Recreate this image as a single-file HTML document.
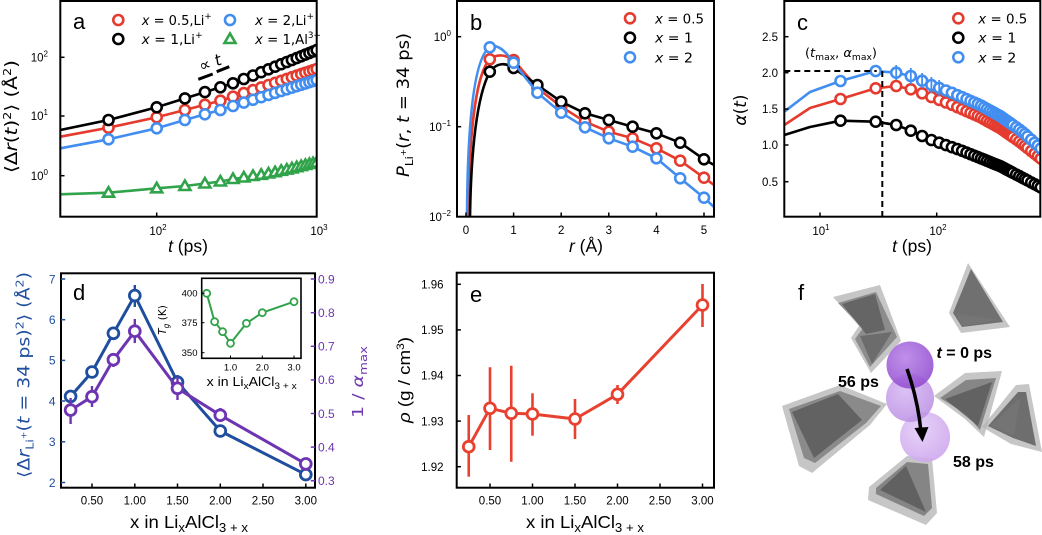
<!DOCTYPE html>
<html><head><meta charset="utf-8"><style>
html,body{margin:0;padding:0;background:#fff;}
svg{display:block;font-family:"Liberation Sans","DejaVu Sans",sans-serif;}
.m{font-family:"DejaVu Sans","Liberation Sans",sans-serif;}
</style></head><body>
<svg width="1042" height="535" viewBox="0 0 1042 535" xmlns="http://www.w3.org/2000/svg">
<defs>
<marker id="mR" viewBox="0 0 16 16" refX="8" refY="8" markerWidth="16" markerHeight="16" markerUnits="userSpaceOnUse"><circle cx="8" cy="8" r="5" fill="#fff" stroke="#e53b2f" stroke-width="2.6"/></marker>
<marker id="mK" viewBox="0 0 16 16" refX="8" refY="8" markerWidth="16" markerHeight="16" markerUnits="userSpaceOnUse"><circle cx="8" cy="8" r="5" fill="#fff" stroke="#000" stroke-width="2.6"/></marker>
<marker id="mB" viewBox="0 0 16 16" refX="8" refY="8" markerWidth="16" markerHeight="16" markerUnits="userSpaceOnUse"><circle cx="8" cy="8" r="5" fill="#fff" stroke="#428ef0" stroke-width="2.6"/></marker>
<marker id="mG" viewBox="0 0 16 16" refX="8" refY="8" markerWidth="16" markerHeight="16" markerUnits="userSpaceOnUse"><polygon points="8,2.5 2.5,12 13.5,12" fill="#fff" stroke="#31a34a" stroke-width="2.6" stroke-linejoin="miter"/></marker>
<marker id="mD" viewBox="0 0 18 18" refX="9" refY="9" markerWidth="18" markerHeight="18" markerUnits="userSpaceOnUse"><circle cx="9" cy="9" r="5.4" fill="#fff" stroke="#1f4e9e" stroke-width="2.8"/></marker>
<marker id="mP" viewBox="0 0 18 18" refX="9" refY="9" markerWidth="18" markerHeight="18" markerUnits="userSpaceOnUse"><circle cx="9" cy="9" r="5.4" fill="#fff" stroke="#6e35b2" stroke-width="2.8"/></marker>
<marker id="mE" viewBox="0 0 18 18" refX="9" refY="9" markerWidth="18" markerHeight="18" markerUnits="userSpaceOnUse"><circle cx="9" cy="9" r="5.4" fill="#fff" stroke="#e8412f" stroke-width="2.8"/></marker>
<marker id="mI" viewBox="0 0 12 12" refX="6" refY="6" markerWidth="12" markerHeight="12" markerUnits="userSpaceOnUse"><circle cx="6" cy="6" r="3.5" fill="#fff" stroke="#31a34a" stroke-width="1.8"/></marker>
<clipPath id="cA"><rect x="60.3" y="1" width="256.4" height="215.7"/></clipPath>
<clipPath id="cB"><rect x="457" y="1" width="257" height="215.7"/></clipPath>
<clipPath id="cC"><rect x="784.3" y="1" width="256" height="215.7"/></clipPath>
<radialGradient id="s1" cx="0.4" cy="0.35" r="0.7"><stop offset="0" stop-color="#b681e6"/><stop offset="1" stop-color="#9049cf"/></radialGradient>
<radialGradient id="s2" cx="0.4" cy="0.35" r="0.7"><stop offset="0" stop-color="#d6b8f2"/><stop offset="1" stop-color="#bb8fe3"/></radialGradient>
<radialGradient id="s3" cx="0.4" cy="0.35" r="0.7"><stop offset="0" stop-color="#e4cdf7"/><stop offset="1" stop-color="#cda6ee"/></radialGradient>
</defs>
<rect width="1042" height="535" fill="#fff"/>

<!-- ================= PANEL A ================= -->
<g clip-path="url(#cA)" fill="none" stroke-width="2.6" stroke-linejoin="round">
<polyline stroke="#e53b2f" points="60.3,136.7 108.5,127.7 156.7,117.3 184.9,110 204.9,104.7 220.4,100.7 233,96.7 243.8,93.1 253,90.1 261.2,87.4 268.5,85.0 275.1,82.8 281.2,80.8 286.8,78.9 291.9,77.2 296.7,75.6 301.2,74.1 305.4,72.7 309.4,71.4 313.1,70.2 316.7,69.0"/>
<polyline stroke="none" marker-start="url(#mR)" marker-mid="url(#mR)" marker-end="url(#mR)" points="108.5,127.7 156.7,117.3 184.9,110 204.9,104.7 220.4,100.7 233,96.7 243.8,93.1 253,90.1 261.2,87.4 268.5,85.0 275.1,82.8 281.2,80.8 286.8,78.9 291.9,77.2 296.7,75.6 301.2,74.1 305.4,72.7 309.4,71.4 313.1,70.2 316.7,69.0"/>
<polyline stroke="#000" points="60.3,130 108.5,120 156.7,107.3 184.9,98.4 204.9,92.1 220.4,87.3 233,83.3 243.8,79.0 253,75.5 261.2,72.2 268.5,69.3 275.1,66.7 281.2,64.2 286.8,62.0 291.9,60.0 296.7,58.1 301.2,56.3 305.4,54.6 309.4,53.0 313.1,51.5 316.7,50.1"/>
<polyline stroke="none" marker-start="url(#mK)" marker-mid="url(#mK)" marker-end="url(#mK)" points="108.5,120 156.7,107.3 184.9,98.4 204.9,92.1 220.4,87.3 233,83.3 243.8,79.0 253,75.5 261.2,72.2 268.5,69.3 275.1,66.7 281.2,64.2 286.8,62.0 291.9,60.0 296.7,58.1 301.2,56.3 305.4,54.6 309.4,53.0 313.1,51.5 316.7,50.1"/>
<polyline stroke="#428ef0" points="60.3,148.3 108.5,139.3 156.7,128.3 184.9,120 204.9,114.3 220.4,110 233,106 243.8,102.6 253,99.8 261.2,97.2 268.5,94.9 275.1,92.9 281.2,91.0 286.8,89.3 291.9,87.7 296.7,86.2 301.2,84.8 305.4,83.5 309.4,82.2 313.1,81.1 316.7,80.0"/>
<polyline stroke="none" marker-start="url(#mB)" marker-mid="url(#mB)" marker-end="url(#mB)" points="108.5,139.3 156.7,128.3 184.9,120 204.9,114.3 220.4,110 233,106 243.8,102.6 253,99.8 261.2,97.2 268.5,94.9 275.1,92.9 281.2,91.0 286.8,89.3 291.9,87.7 296.7,86.2 301.2,84.8 305.4,83.5 309.4,82.2 313.1,81.1 316.7,80.0"/>
<polyline stroke="#31a34a" points="60.3,194.3 108.5,192.7 156.7,188.3 184.9,186 204.9,183.5 220.4,181.5 233,179 243.8,177.5 253,176 261.2,174.8 268.5,173.5 275.1,172.2 281.2,170.8 286.8,169.6 291.9,168.4 296.7,167.2 301.2,166.1 305.4,165 309.4,164 313.1,163.2 316.7,162.5"/>
<polyline stroke="none" marker-start="url(#mG)" marker-mid="url(#mG)" marker-end="url(#mG)" points="108.5,192.7 156.7,188.3 184.9,186 204.9,183.5 220.4,181.5 233,179 243.8,177.5 253,176 261.2,174.8 268.5,173.5 275.1,172.2 281.2,170.8 286.8,169.6 291.9,168.4 296.7,167.2 301.2,166.1 305.4,165 309.4,164 313.1,163.2 316.7,162.5"/>
</g>
<g fill="#fff" stroke-width="2.6">
<circle cx="118.3" cy="20" r="5" stroke="#e53b2f"/>
<circle cx="118.3" cy="39" r="5" stroke="#000"/>
<circle cx="230" cy="20" r="5" stroke="#428ef0"/>
<polygon points="230,33.5 224.5,43 235.5,43" stroke="#31a34a"/>
</g>
<g class="m" font-size="13.5" fill="#000">
<text x="141.7" y="25" textLength="70" lengthAdjust="spacingAndGlyphs"><tspan font-style="italic">x</tspan> = 0.5,Li<tspan font-size="9" dy="-6">+</tspan></text>
<text x="141.7" y="44" textLength="61" lengthAdjust="spacingAndGlyphs"><tspan font-style="italic">x</tspan> = 1,Li<tspan font-size="9" dy="-6">+</tspan></text>
<text x="255" y="25" textLength="59" lengthAdjust="spacingAndGlyphs"><tspan font-style="italic">x</tspan> = 2,Li<tspan font-size="9" dy="-6">+</tspan></text>
<text x="255" y="44" textLength="66" lengthAdjust="spacingAndGlyphs"><tspan font-style="italic">x</tspan> = 1,Al<tspan font-size="9" dy="-6">3+</tspan></text>
</g>
<text x="73" y="29" font-size="22">a</text>
<line x1="198.3" y1="79.3" x2="212.7" y2="74" stroke="#000" stroke-width="3"/>
<line x1="216.7" y1="71.7" x2="229.3" y2="66.7" stroke="#000" stroke-width="3"/>
<text class="m" transform="translate(212,68) rotate(-20)" text-anchor="middle" font-size="16">∝ <tspan font-style="italic">t</tspan></text>
<rect x="60.3" y="1" width="256.4" height="215.7" fill="none" stroke="#000" stroke-width="2"/>
<g stroke="#000" stroke-width="1.5">
<line x1="60.3" y1="57.3" x2="64.5" y2="57.3"/><line x1="60.3" y1="116" x2="64.5" y2="116"/><line x1="60.3" y1="175.7" x2="64.5" y2="175.7"/>
<line x1="156.7" y1="216.7" x2="156.7" y2="212.5"/>
</g>
<g font-size="11.5" text-anchor="end">
<text x="48" y="61.5">10<tspan font-size="8" dy="-5">2</tspan></text>
<text x="48" y="120.2">10<tspan font-size="8" dy="-5">1</tspan></text>
<text x="48" y="179.9">10<tspan font-size="8" dy="-5">0</tspan></text>
</g>
<g font-size="11.5" text-anchor="middle">
<text x="158" y="235">10<tspan font-size="8" dy="-5">2</tspan></text>
<text x="319" y="235">10<tspan font-size="8" dy="-5">3</tspan></text>
</g>
<text x="188" y="252" text-anchor="middle" font-size="17.5"><tspan font-style="italic">t</tspan> (ps)</text>
<text class="m" transform="translate(17,116.5) rotate(-90)" text-anchor="middle" font-size="17" textLength="113" lengthAdjust="spacingAndGlyphs">⟨Δ<tspan font-style="italic">r</tspan>(<tspan font-style="italic">t</tspan>)<tspan font-size="11" dy="-6">2</tspan><tspan dy="6">⟩ (Å</tspan><tspan font-size="11" dy="-6">2</tspan><tspan dy="6">)</tspan></text>

<!-- ================= PANEL B ================= -->
<g clip-path="url(#cB)" fill="none" stroke-width="2.6" stroke-linejoin="round">
<path stroke="#e53b2f" d="M468,217 C469,140 475,75 489.8,59.3 C496,54 505,54 513.6,60 L537.4,88 L561.2,106.7 L585,121.7 L608.8,131.7 L632.6,138.3 L656.4,148.3 L680.2,160.7 L704,177.7 L714,185"/>
<polyline stroke="none" marker-start="url(#mR)" marker-mid="url(#mR)" marker-end="url(#mR)" points="489.8,59.3 513.6,60 537.4,88 561.2,106.7 585,121.7 608.8,131.7 632.6,138.3 656.4,148.3 680.2,160.7 704,177.7"/>
<path stroke="#000" d="M470,217 C471,150 477,95 489.8,72 C496,63 505,62 513.6,68 L537.4,85 L561.2,101.7 L585,113.3 L608.8,120 L632.6,126.7 L656.4,133.3 L680.2,142.7 L704,159.3 L714,165"/>
<polyline stroke="none" marker-start="url(#mK)" marker-mid="url(#mK)" marker-end="url(#mK)" points="489.8,71.7 513.6,68 537.4,85 561.2,101.7 585,113.3 608.8,120 632.6,126.7 656.4,133.3 680.2,142.7 704,159.3"/>
<path stroke="#428ef0" d="M467,217 C467.5,130 473,58 489.8,47.3 C496,43 505,50 513.6,62.7 L537.4,92.7 L561.2,112.7 L585,127.3 L608.8,138.3 L632.6,146.7 L656.4,158.3 L680.2,178.3 L704,197.7 L714,207"/>
<polyline stroke="none" marker-start="url(#mB)" marker-mid="url(#mB)" marker-end="url(#mB)" points="489.8,47.3 513.6,62.7 537.4,92.7 561.2,112.7 585,127.3 608.8,138.3 632.6,146.7 656.4,158.3 680.2,178.3 704,197.7"/>
</g>
<g fill="#fff" stroke-width="2.6">
<circle cx="630" cy="18.3" r="5" stroke="#e53b2f"/>
<circle cx="630" cy="37.7" r="5" stroke="#000"/>
<circle cx="630" cy="57.3" r="5" stroke="#428ef0"/>
</g>
<g class="m" font-size="13.5">
<text x="655" y="23.3" textLength="49" lengthAdjust="spacingAndGlyphs"><tspan font-style="italic">x</tspan> = 0.5</text>
<text x="655" y="42.7" textLength="38" lengthAdjust="spacingAndGlyphs"><tspan font-style="italic">x</tspan> = 1</text>
<text x="655" y="62.3" textLength="38" lengthAdjust="spacingAndGlyphs"><tspan font-style="italic">x</tspan> = 2</text>
</g>
<text x="470" y="30" font-size="22">b</text>
<rect x="457" y="1" width="257" height="215.7" fill="none" stroke="#000" stroke-width="2"/>
<g stroke="#000" stroke-width="1.5">
<line x1="457" y1="36.7" x2="461.2" y2="36.7"/><line x1="457" y1="126.7" x2="461.2" y2="126.7"/>
<line x1="466" y1="216.7" x2="466" y2="212.5"/><line x1="513.6" y1="216.7" x2="513.6" y2="212.5"/><line x1="561.2" y1="216.7" x2="561.2" y2="212.5"/><line x1="608.8" y1="216.7" x2="608.8" y2="212.5"/><line x1="656.4" y1="216.7" x2="656.4" y2="212.5"/><line x1="704" y1="216.7" x2="704" y2="212.5"/>
</g>
<g font-size="11.5" text-anchor="end">
<text x="451" y="40.9">10<tspan font-size="8" dy="-5">0</tspan></text>
<text x="451" y="130.9">10<tspan font-size="8" dy="-5">−1</tspan></text>
<text x="451" y="220.9">10<tspan font-size="8" dy="-5">−2</tspan></text>
</g>
<g font-size="11.5" text-anchor="middle">
<text x="466" y="234">0</text><text x="513.6" y="234">1</text><text x="561.2" y="234">2</text><text x="608.8" y="234">3</text><text x="656.4" y="234">4</text><text x="704" y="234">5</text>
</g>
<text x="586" y="252" text-anchor="middle" font-size="17.5"><tspan font-style="italic">r</tspan> (Å)</text>
<text class="m" transform="translate(409,105) rotate(-90)" text-anchor="middle" font-size="16.5" textLength="144" lengthAdjust="spacingAndGlyphs"><tspan font-style="italic">P</tspan><tspan font-size="11" dy="4">Li</tspan><tspan font-size="8" dy="-7">+</tspan><tspan dy="3">(</tspan><tspan font-style="italic">r</tspan>, <tspan font-style="italic">t</tspan> = 34 ps)</text>

<!-- ================= PANEL C ================= -->
<g clip-path="url(#cC)" fill="none" stroke-width="2.6" stroke-linejoin="round">
<polyline stroke="#e53b2f" points="784.3,125 810,108 840.5,99 875.7,88.3 896.2,86 910.8,89.3 922.1,93.3 931.4,97 950,104 980,117 1000,128 1020,142 1042,160"/>
<polyline stroke="none" marker-start="url(#mR)" marker-mid="url(#mR)" marker-end="url(#mR)" points="840.5,99 875.7,88.3 896.2,86 910.8,89.3 922.1,93.3 931.4,97 939.2,99.9 945.9,102.5 951.9,104.8 957.3,107.2 962.1,109.2 966.5,111.2 970.5,112.9 974.3,114.5 977.8,116 981.1,117.6 984.1,119.3 987,120.9 989.8,122.4 992.4,123.8 994.9,125.2 997.2,126.5 999.5,127.7 1001.6,129.1 1003.7,130.6 1005.7,132 1007.6,133.3 1009.4,134.6 1011.2,135.8 1012.9,137 1016.2,139.3 1019.3,141.5 1022.2,143.8 1024.9,145.9 1027.5,148 1031.2,151 1034.6,153.7 1037.8,156.2 1040.8,158.6"/>
<polyline stroke="#000" points="784.3,135 810,127 840.5,120.7 875.7,121.7 896.2,125 910.8,130.7 922.1,136 931.4,140 960,150 1000,166 1042,188"/>
<polyline stroke="none" marker-start="url(#mK)" marker-mid="url(#mK)" marker-end="url(#mK)" points="840.5,120.7 875.7,121.7 896.2,125 910.8,130.7 922.1,136 931.4,140 939.2,142.7 945.9,145.1 951.9,147.2 957.3,149.1 962.1,150.8 966.5,152.6 970.5,154.2 974.3,155.7 977.8,157.1 981.1,158.4 984.1,159.6 987,160.8 989.8,161.9 992.4,163 994.9,164 997.2,164.9 999.5,165.8 1001.6,166.8 1003.7,167.9 1005.7,169 1007.6,170 1009.4,170.9 1011.2,171.9 1012.9,172.8 1016.2,174.5 1019.3,176.1 1022.2,177.7 1024.9,179.1 1027.5,180.4 1031.2,182.4 1034.6,184.2 1037.8,185.8 1040.8,187.4"/>
<polyline stroke="#428ef0" points="784.3,111.7 810,92 840.5,81 875.7,71 896.2,72.7 910.8,76 922.1,80.7 931.4,85 950,92 980,105 1000,116 1020,130 1042,149"/>
<polyline stroke="none" marker-start="url(#mB)" marker-mid="url(#mB)" marker-end="url(#mB)" points="840.5,81 875.7,71 896.2,72.7 910.8,76 922.1,80.7 931.4,85 939.2,87.9 945.9,90.5 951.9,92.8 957.3,95.2 962.1,97.2 966.5,99.1 970.5,100.9 974.3,102.5 977.8,104 981.1,105.6 984.1,107.3 987,108.9 989.8,110.4 992.4,111.8 994.9,113.2 997.2,114.5 999.5,115.7 1001.6,117.1 1003.7,118.6 1005.7,120 1007.6,121.3 1009.4,122.6 1011.2,123.8 1012.9,125 1016.2,127.3 1019.3,129.5 1022.2,131.8 1024.9,134 1027.5,136.4 1031.2,139.7 1034.6,142.8 1037.8,145.6 1040.8,148.4"/>
<g stroke="#428ef0" stroke-width="1.8">
<line x1="896.2" y1="65" x2="896.2" y2="80"/><line x1="910.8" y1="68" x2="910.8" y2="84"/><line x1="922.1" y1="73" x2="922.1" y2="88"/><line x1="931.4" y1="77" x2="931.4" y2="93"/><line x1="939.2" y1="80" x2="939.2" y2="96"/>
</g>
</g>
<path d="M784.3,71 L876.7,71 M882.3,71 L882.3,216.7" stroke="#000" stroke-width="2" stroke-dasharray="6,4" fill="none"/>
<g fill="#fff" stroke-width="2.6">
<circle cx="958.3" cy="18.3" r="5" stroke="#e53b2f"/>
<circle cx="958.3" cy="37.7" r="5" stroke="#000"/>
<circle cx="958.3" cy="57.3" r="5" stroke="#428ef0"/>
</g>
<g class="m" font-size="13.5">
<text x="978.3" y="23.3" textLength="49" lengthAdjust="spacingAndGlyphs"><tspan font-style="italic">x</tspan> = 0.5</text>
<text x="978.3" y="42.7" textLength="38" lengthAdjust="spacingAndGlyphs"><tspan font-style="italic">x</tspan> = 1</text>
<text x="978.3" y="62.3" textLength="38" lengthAdjust="spacingAndGlyphs"><tspan font-style="italic">x</tspan> = 2</text>
</g>
<text x="797" y="30" font-size="22">c</text>
<text class="m" x="841" y="57" text-anchor="middle" font-size="12" textLength="72" lengthAdjust="spacingAndGlyphs">(<tspan font-style="italic">t</tspan><tspan font-size="8.5" dy="3">max</tspan><tspan dy="-3">, </tspan><tspan font-style="italic">α</tspan><tspan font-size="8.5" dy="3">max</tspan><tspan dy="-3">)</tspan></text>
<rect x="784.3" y="1" width="256" height="215.7" fill="none" stroke="#000" stroke-width="2"/>
<g stroke="#000" stroke-width="1.5">
<line x1="784.3" y1="36.7" x2="788.5" y2="36.7"/><line x1="784.3" y1="72.7" x2="788.5" y2="72.7"/><line x1="784.3" y1="109" x2="788.5" y2="109"/><line x1="784.3" y1="145" x2="788.5" y2="145"/><line x1="784.3" y1="181.7" x2="788.5" y2="181.7"/>
<line x1="820" y1="216.7" x2="820" y2="212.5"/><line x1="936.7" y1="216.7" x2="936.7" y2="212.5"/>
</g>
<g font-size="11.5" text-anchor="end">
<text x="778" y="40.9">2.5</text><text x="778" y="76.9">2.0</text><text x="778" y="113.2">1.5</text><text x="778" y="149.2">1.0</text><text x="778" y="185.9">0.5</text>
</g>
<g font-size="11.5" text-anchor="middle">
<text x="821" y="235">10<tspan font-size="8" dy="-5">1</tspan></text>
<text x="938" y="235">10<tspan font-size="8" dy="-5">2</tspan></text>
</g>
<text x="912" y="252" text-anchor="middle" font-size="17.5"><tspan font-style="italic">t</tspan> (ps)</text>
<text class="m" transform="translate(746,110) rotate(-90)" text-anchor="middle" font-size="17"><tspan font-style="italic">α</tspan>(<tspan font-style="italic">t</tspan>)</text>

<!-- ================= PANEL D ================= -->
<g stroke="#1f4e9e" stroke-width="2.4">
<line x1="70.6" y1="391" x2="70.6" y2="402"/><line x1="92" y1="367" x2="92" y2="377"/><line x1="113.4" y1="328" x2="113.4" y2="339"/><line x1="134.8" y1="285" x2="134.8" y2="307"/><line x1="177.5" y1="375" x2="177.5" y2="392"/><line x1="220.3" y1="427" x2="220.3" y2="436"/><line x1="305.8" y1="471" x2="305.8" y2="478"/>
</g>
<polyline fill="none" stroke="#1f4e9e" stroke-width="3" stroke-linejoin="round" points="70.6,396.4 92,372 113.4,333.3 134.8,295.5 177.5,382.2 220.3,431 305.8,474.6" marker-start="url(#mD)" marker-mid="url(#mD)" marker-end="url(#mD)"/>
<g stroke="#6e35b2" stroke-width="2.4">
<line x1="70.6" y1="398" x2="70.6" y2="424"/><line x1="92" y1="386" x2="92" y2="407"/><line x1="113.4" y1="353" x2="113.4" y2="367"/><line x1="134.8" y1="319" x2="134.8" y2="343"/><line x1="177.5" y1="377" x2="177.5" y2="400"/><line x1="220.3" y1="408" x2="220.3" y2="422"/><line x1="305.8" y1="460" x2="305.8" y2="468"/>
</g>
<polyline fill="none" stroke="#6e35b2" stroke-width="3" stroke-linejoin="round" points="70.6,410.1 92,396.7 113.4,359.7 134.8,331.2 177.5,388.3 220.3,415.2 305.8,463.9" marker-start="url(#mP)" marker-mid="url(#mP)" marker-end="url(#mP)"/>
<text x="73" y="300" font-size="22">d</text>
<rect x="201.7" y="278.3" width="99.3" height="80" fill="#fff" stroke="#000" stroke-width="1.6"/>
<polyline fill="none" stroke="#31a34a" stroke-width="2" points="206.7,293.3 214.6,321.7 222.6,331.7 230.5,343.3 246.4,323.3 262.3,312.7 294,301.7" marker-start="url(#mI)" marker-mid="url(#mI)" marker-end="url(#mI)"/>
<g stroke="#000" stroke-width="1">
<line x1="201.7" y1="293.3" x2="204.5" y2="293.3"/><line x1="201.7" y1="322.7" x2="204.5" y2="322.7"/><line x1="201.7" y1="352.7" x2="204.5" y2="352.7"/>
<line x1="230.5" y1="358.3" x2="230.5" y2="355.5"/><line x1="262.3" y1="358.3" x2="262.3" y2="355.5"/><line x1="294" y1="358.3" x2="294" y2="355.5"/>
</g>
<g font-size="9.5" text-anchor="end">
<text x="197.5" y="296.6">400</text><text x="197.5" y="326">375</text><text x="197.5" y="356">350</text>
</g>
<g font-size="9.5" text-anchor="middle">
<text x="230.5" y="370.5">1.0</text><text x="262.3" y="370.5">2.0</text><text x="294" y="370.5">3.0</text>
</g>
<text x="251.7" y="386" text-anchor="middle" font-size="12.5" textLength="90" lengthAdjust="spacingAndGlyphs">x in Li<tspan font-size="9" dy="3">x</tspan><tspan dy="-3">AlCl</tspan><tspan font-size="9" dy="3">3 + x</tspan></text>
<text class="m" transform="translate(166,320) rotate(-90)" text-anchor="middle" font-size="10.5"><tspan font-style="italic">T</tspan><tspan font-size="7.5" dy="3" font-style="italic">g</tspan><tspan dy="-3"> (K)</tspan></text>
<rect x="61" y="273.3" width="254" height="214.4" fill="none" stroke="#000" stroke-width="2"/>
<g stroke="#1f4e9e" stroke-width="1.5">
<line x1="61" y1="279" x2="65.2" y2="279"/><line x1="61" y1="319.7" x2="65.2" y2="319.7"/><line x1="61" y1="360.4" x2="65.2" y2="360.4"/><line x1="61" y1="401" x2="65.2" y2="401"/><line x1="61" y1="441.8" x2="65.2" y2="441.8"/><line x1="61" y1="482.5" x2="65.2" y2="482.5"/>
</g>
<g stroke="#6e35b2" stroke-width="1.5">
<line x1="315" y1="279" x2="310.8" y2="279"/><line x1="315" y1="312.7" x2="310.8" y2="312.7"/><line x1="315" y1="346.3" x2="310.8" y2="346.3"/><line x1="315" y1="379.9" x2="310.8" y2="379.9"/><line x1="315" y1="413.5" x2="310.8" y2="413.5"/><line x1="315" y1="447.1" x2="310.8" y2="447.1"/><line x1="315" y1="480.7" x2="310.8" y2="480.7"/>
</g>
<g stroke="#000" stroke-width="1.5">
<line x1="92" y1="487.7" x2="92" y2="483.5"/><line x1="134.8" y1="487.7" x2="134.8" y2="483.5"/><line x1="177.5" y1="487.7" x2="177.5" y2="483.5"/><line x1="220.3" y1="487.7" x2="220.3" y2="483.5"/><line x1="263" y1="487.7" x2="263" y2="483.5"/><line x1="305.8" y1="487.7" x2="305.8" y2="483.5"/>
</g>
<g font-size="12" text-anchor="end" fill="#1f4e9e">
<text x="55.5" y="283.3">7</text><text x="55.5" y="324">6</text><text x="55.5" y="364.7">5</text><text x="55.5" y="405.3">4</text><text x="55.5" y="446.1">3</text><text x="55.5" y="486.8">2</text>
</g>
<g font-size="12" fill="#6e35b2">
<text x="318" y="283.3">0.9</text><text x="318" y="317">0.8</text><text x="318" y="350.6">0.7</text><text x="318" y="384.2">0.6</text><text x="318" y="417.8">0.5</text><text x="318" y="451.4">0.4</text><text x="318" y="485">0.3</text>
</g>
<g font-size="11.5" text-anchor="middle">
<text x="92" y="504.5">0.50</text><text x="134.8" y="504.5">1.00</text><text x="177.5" y="504.5">1.50</text><text x="220.3" y="504.5">2.00</text><text x="263" y="504.5">2.50</text><text x="305.8" y="504.5">3.00</text>
</g>
<text x="189" y="528" text-anchor="middle" font-size="17.5" textLength="118" lengthAdjust="spacingAndGlyphs">x in Li<tspan font-size="12.5" dy="4">x</tspan><tspan dy="-4">AlCl</tspan><tspan font-size="12.5" dy="4">3 + x</tspan></text>
<text class="m" transform="translate(29.5,375) rotate(-90)" text-anchor="middle" font-size="16.5" fill="#1f4e9e" textLength="206" lengthAdjust="spacingAndGlyphs">⟨Δ<tspan font-style="italic">r</tspan><tspan font-size="11" dy="4">Li</tspan><tspan font-size="8" dy="-7">+</tspan><tspan dy="3">(</tspan><tspan font-style="italic">t</tspan> = 34 ps)<tspan font-size="11" dy="-6">2</tspan><tspan dy="6">⟩ (Å</tspan><tspan font-size="11" dy="-6">2</tspan><tspan dy="6">)</tspan></text>
<text class="m" transform="translate(363,382) rotate(-90)" text-anchor="middle" font-size="15" fill="#6e35b2" textLength="72" lengthAdjust="spacingAndGlyphs">1 / <tspan font-style="italic">α</tspan><tspan font-size="10.5" dy="4">max</tspan></text>

<!-- ================= PANEL E ================= -->
<g stroke="#e8412f" stroke-width="2.6">
<line x1="468.75" y1="415" x2="468.75" y2="476.7"/><line x1="490" y1="367.3" x2="490" y2="450"/><line x1="511.25" y1="365.7" x2="511.25" y2="461.7"/><line x1="532.5" y1="393.3" x2="532.5" y2="435.7"/><line x1="575" y1="399" x2="575" y2="439"/><line x1="617.5" y1="385" x2="617.5" y2="404"/><line x1="702.5" y1="284" x2="702.5" y2="327"/>
</g>
<polyline fill="none" stroke="#e8412f" stroke-width="3" stroke-linejoin="round" points="468.75,446.7 490,408.3 511.25,413.3 532.5,414 575,419 617.5,394.3 702.5,305" marker-start="url(#mE)" marker-mid="url(#mE)" marker-end="url(#mE)"/>
<text x="470" y="302" font-size="22">e</text>
<rect x="456.7" y="272.7" width="257.3" height="215" fill="none" stroke="#000" stroke-width="2"/>
<g stroke="#000" stroke-width="1.5">
<line x1="456.7" y1="284.3" x2="460.9" y2="284.3"/><line x1="456.7" y1="329.9" x2="460.9" y2="329.9"/><line x1="456.7" y1="375.5" x2="460.9" y2="375.5"/><line x1="456.7" y1="421.1" x2="460.9" y2="421.1"/><line x1="456.7" y1="466.7" x2="460.9" y2="466.7"/>
<line x1="490" y1="487.7" x2="490" y2="483.5"/><line x1="532.5" y1="487.7" x2="532.5" y2="483.5"/><line x1="575" y1="487.7" x2="575" y2="483.5"/><line x1="617.5" y1="487.7" x2="617.5" y2="483.5"/><line x1="660" y1="487.7" x2="660" y2="483.5"/><line x1="702.5" y1="487.7" x2="702.5" y2="483.5"/>
</g>
<g font-size="11.5" text-anchor="end">
<text x="443.5" y="288.5">1.96</text><text x="443.5" y="334.1">1.95</text><text x="443.5" y="379.7">1.94</text><text x="443.5" y="425.3">1.93</text><text x="443.5" y="470.9">1.92</text>
</g>
<g font-size="11.5" text-anchor="middle">
<text x="490" y="504.5">0.50</text><text x="532.5" y="504.5">1.00</text><text x="575" y="504.5">1.50</text><text x="617.5" y="504.5">2.00</text><text x="660" y="504.5">2.50</text><text x="702.5" y="504.5">3.00</text>
</g>
<text x="585" y="528" text-anchor="middle" font-size="17.5" textLength="118" lengthAdjust="spacingAndGlyphs">x in Li<tspan font-size="12.5" dy="4">x</tspan><tspan dy="-4">AlCl</tspan><tspan font-size="12.5" dy="4">3 + x</tspan></text>
<text transform="translate(410,380) rotate(-90)" text-anchor="middle" font-size="17" textLength="86" lengthAdjust="spacingAndGlyphs"><tspan font-style="italic">ρ</tspan> (g / cm<tspan font-size="11" dy="-6">3</tspan><tspan dy="6">)</tspan></text>

<!-- ================= PANEL F ================= -->
<text x="798" y="300" font-size="22">f</text>
<g stroke="none">
<polygon points="833,297 880,285 901,341 871,373 851,338 859,326" fill="#b3b3b3" fill-opacity="0.75"/>
<polygon points="838,303 876,292 897,337 870,367 855,339 863,328" fill="#7d7d7d" fill-opacity="0.8"/>
<polygon points="842,304 875,294 885,330 866,334" fill="#5e5e5e" fill-opacity="0.85"/>
<polygon points="860,336 892,332 872,364" fill="#666" fill-opacity="0.85"/>
<polygon points="968,263 1010,327 961,333 949,313" fill="#b3b3b3" fill-opacity="0.75"/>
<polygon points="971,269 1003,322 962,327 953,313" fill="#606060" fill-opacity="0.85"/>
<polygon points="957,314 1000,320 962,326" fill="#777" fill-opacity="0.8"/>
<polygon points="782,406 840,385 887,404 870,425 812,473 799,466" fill="#b3b3b3" fill-opacity="0.75"/>
<polygon points="789,409 840,391 881,406 866,423 815,463 804,458" fill="#7a7a7a" fill-opacity="0.8"/>
<polygon points="792,412 838,394 862,420 814,458" fill="#5a5a5a" fill-opacity="0.85"/>
<polygon points="934,396 965,373 1002,371 984,437 965,419" fill="#b3b3b3" fill-opacity="0.75"/>
<polygon points="940,398 966,380 996,378 980,430 966,414" fill="#767676" fill-opacity="0.8"/>
<polygon points="945,399 992,382 978,426" fill="#5c5c5c" fill-opacity="0.85"/>
<polygon points="982,427 1016,385 1029,384 1042,452 1011,444" fill="#b3b3b3" fill-opacity="0.75"/>
<polygon points="988,426 1018,392 1026,392 1036,446 1013,438" fill="#5e5e5e" fill-opacity="0.85"/>
<polygon points="990,426 1020,398 1014,436" fill="#767676" fill-opacity="0.8"/>
<polygon points="869,487 907,456 932,458 937,513 926,525 868,500" fill="#b3b3b3" fill-opacity="0.75"/>
<polygon points="876,488 907,462 928,464 932,508 924,516 876,494" fill="#747474" fill-opacity="0.8"/>
<polygon points="880,490 906,466 926,512" fill="#5a5a5a" fill-opacity="0.85"/>
</g>
<circle cx="925" cy="437" r="25" fill="url(#s3)" fill-opacity="0.9"/>
<circle cx="910" cy="398" r="24" fill="url(#s2)" fill-opacity="0.88"/>
<circle cx="910" cy="365" r="23.5" fill="url(#s1)" fill-opacity="0.88"/>
<path d="M907,369 Q918,400 921,432" fill="none" stroke="#000" stroke-width="3.5"/>
<polygon points="922.5,442 914.5,428 928.5,427" fill="#000"/>
<g font-size="16" font-weight="bold">
<text x="936.5" y="358"><tspan font-style="italic">t</tspan> = 0 ps</text>
<text x="838" y="387">56 ps</text>
<text x="953" y="467">58 ps</text>
</g>
</svg>
</body></html>
